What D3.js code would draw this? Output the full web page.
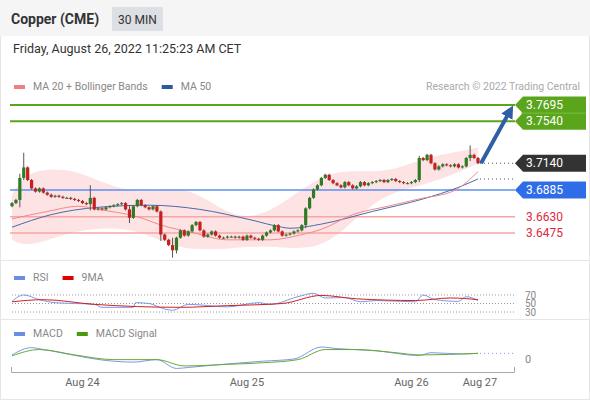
<!DOCTYPE html>
<html><head><meta charset="utf-8">
<script src="https://cdn.jsdelivr.net/npm/d3@7"></script>
<style>body{margin:0;background:#fff;font-family:Roboto,"Open Sans",sans-serif}</style>
</head><body><div id="chart"></div>
<script>
// 30 min closes, Aug 23 evening -> Aug 26 morning
const firstOpen = 3.673;
const closes = [3.676,3.679,3.700,3.710,3.698,3.690,3.687,3.690,3.686,3.684,3.682,3.683,3.682,3.681,3.681,3.680,3.679,3.678,3.676,3.675,
  3.681,3.670,3.671,3.670,3.672,3.673,3.674,3.675,3.676,3.670,3.662,3.673,3.679,3.674,3.672,3.670,3.673,3.668,3.646,3.641,
  3.636,3.631,3.643,3.650,3.645,3.649,3.655,3.658,3.650,3.644,3.646,3.649,3.645,3.643,3.643,3.644,3.644,3.643,3.644,3.641,
  3.645,3.643,3.642,3.641,3.645,3.648,3.650,3.655,3.649,3.645,3.646,3.647,3.649,3.650,3.655,3.671,3.681,3.689,3.693,3.700,
  3.703,3.698,3.695,3.693,3.691,3.696,3.693,3.690,3.692,3.696,3.693,3.695,3.696,3.697,3.698,3.696,3.698,3.699,3.697,3.696,
  3.695,3.695,3.696,3.698,3.719,3.717,3.722,3.714,3.708,3.711,3.713,3.712,3.711,3.713,3.710,3.711,3.719,3.722,3.719,3.714];
// notable wicks [index, high, low]
const wicks = [[2,3.704,3.672],[3,3.724,3.698],[20,3.693,3.669],[30,3.674,3.657],[38,3.669,3.640],[41,3.643,3.624],[42,3.644,3.628],[75,3.672,3.652],[104,3.721,3.696],[117,3.731,3.716]];
// indicator lines sampled along the candles [index, value]
const ma20 = [[0,3.661],[9,3.668],[17,3.673],[22,3.670],[32,3.663],[39,3.654],[46,3.648],[55,3.641],[66,3.641],[74,3.646],[79,3.651],[87,3.665],[96,3.673],[104,3.680],[113,3.688],[119,3.706]];
const ma50 = [[0,3.653],[10,3.665],[22,3.672],[35,3.674],[48,3.670],[61,3.660],[69,3.653],[71,3.652],[79,3.656],[92,3.668],[105,3.680],[114,3.691],[119,3.699]];
const bbUp = [[0,3.684],[4,3.708],[14,3.709],[20,3.701],[31,3.684],[41,3.691],[48,3.685],[56,3.663],[65,3.662],[79,3.705],[88,3.707],[96,3.705],[105,3.719],[114,3.725],[119,3.729]];
const bbLo = [[0,3.641],[5,3.632],[10,3.644],[22,3.653],[33,3.653],[41,3.634],[50,3.631],[61,3.634],[71,3.639],[75,3.628],[84,3.631],[88,3.663],[96,3.686],[105,3.693],[114,3.705],[119,3.714]];
const rsi = [[0,55],[3,70],[7,59],[11,52],[21,48],[23,41],[31,41],[31.5,52],[35,50],[39,37],[41,34],[45,48],[55,42],[63,52],[66,48],[73,66],[77,74],[80,63],[85,64],[89,54],[93,57],[103,54],[105,70],[108,59],[114,55],[116,66],[119,57]];
const rsiMA = [[0,54],[8,59],[21,48],[43,41],[55,45],[69,50],[79,69],[88,61],[103,57],[112,63],[119,59]];
const macd = [[0,0.0013],[5,0.0036],[8,0.0030],[26,-0.0007],[31,-0.0010],[37,-0.0002],[42,-0.0030],[45,-0.0027],[51,-0.0020],[64,-0.0007],[72,0],[79,0.0038],[83,0.0033],[93,0.0026],[104,0.0011],[107,0.0020],[115,0.0016],[119,0.0018]];
const signal = [[0,0.0010],[7,0.0030],[16,0.0013],[26,-0.0002],[37,-0.0002],[44,-0.0022],[55,-0.0017],[64,-0.0012],[73,-0.0002],[80,0.0030],[88,0.0030],[98,0.0020],[104,0.0013],[119,0.0018]];
const levels = [
  {v: 3.7695, kind: "res"}, {v: 3.7540, kind: "res"},
  {v: 3.6885, kind: "piv"}, {v: 3.6630, kind: "sup"}, {v: 3.6475, kind: "sup"}];
const dayTicks = [[18, "Aug 24"], [60, "Aug 25"], [102, "Aug 26"], [119.5, "Aug 27"]];
const rsiTicks = [70, 50, 30];

const W = 590, H = 400;
const svg = d3.select("#chart").append("svg").attr("width", W).attr("height", H)
  .style("font-family", "Roboto, sans-serif");

const x = d3.scaleLinear().domain([0, closes.length - 1]).range([12, 478]);
const y = d3.scaleLinear().domain([3.6475, 3.7695]).range([233, 105]);
const yR = d3.scaleLinear().domain([30, 70]).range([312, 295]);
const yM = d3.scaleLinear().domain([-0.004, 0.004]).range([371.6, 346.4]);

// frame + header
svg.append("rect").attr("x", 0.5).attr("y", 0.5).attr("width", W - 1).attr("height", H - 1).attr("fill", "none").attr("stroke", "#e6e6e6");
svg.append("rect").attr("width", W).attr("height", 36).attr("fill", "#f5f5f5");
svg.append("text").attr("x", 11).attr("y", 24).attr("font-size", 14).attr("font-weight", "bold").attr("fill", "#333").text("Copper (CME)");
svg.append("rect").attr("x", 112).attr("y", 7).attr("width", 51).attr("height", 24).attr("fill", "#dcdfe3").attr("rx", 1);
svg.append("text").attr("x", 137.5).attr("y", 24).attr("text-anchor", "middle").attr("font-size", 12).attr("fill", "#333").text("30 MIN");
svg.append("text").attr("x", 13).attr("y", 53).attr("font-size", 12.5).attr("fill", "#333").text("Friday, August 26, 2022 11:25:23 AM CET");

// panel separators
[260, 319].forEach(v => svg.append("line").attr("x1", 1).attr("x2", W - 1).attr("y1", v + .5).attr("y2", v + .5).attr("stroke", "#e6e6e6"));

function legend(items, yy) {
  let xx = 14;
  items.forEach(([label, color]) => {
    svg.append("rect").attr("x", xx).attr("y", yy - 5).attr("width", 11).attr("height", 4).attr("fill", color);
    const t = svg.append("text").attr("x", xx + 19).attr("y", yy).attr("font-size", 10.5).attr("fill", "#888").text(label);
    xx += 19 + t.node().getComputedTextLength() + 14;
  });
}
legend([["MA 20 + Bollinger Bands", "#f08080"], ["MA 50", "#2c5aa0"]], 90);
legend([["RSI", "#6a8ee0"], ["9MA", "#e00000"]], 281);
legend([["MACD", "#6a8ee0"], ["MACD Signal", "#4a9a10"]], 337);
svg.append("text").attr("x", 580).attr("y", 90).attr("text-anchor", "end").attr("font-size", 10.5).attr("fill", "#aaa").text("Research © 2022 Trading Central");

const line = (sy) => d3.line().x(d => x(d[0])).y(d => sy(d[1])).curve(d3.curveMonotoneX);

// bollinger band area
const loMap = d3.scaleLinear().domain(bbLo.map(d => d[0])).range(bbLo.map(d => d[1]));
svg.append("path").datum(bbUp)
  .attr("d", d3.area().x(d => x(d[0])).y0(d => y(loMap(d[0]))).y1(d => y(d[1])).curve(d3.curveBasis))
  .attr("fill", "#fde3e3");

// levels
levels.forEach(l => {
  const c = l.kind === "res" ? "#5aa51b" : l.kind === "piv" ? "#5b8ff0" : "#f7a5a5";
  svg.append("line").attr("x1", 10).attr("x2", 515).attr("y1", y(l.v)).attr("y2", y(l.v))
    .attr("stroke", c).attr("stroke-width", l.kind === "res" ? 2 : 1.5);
});

svg.append("path").datum(ma50).attr("d", line(y)).attr("fill", "none").attr("stroke", "#4a6aa8").attr("stroke-width", 1);
svg.append("path").datum(ma20).attr("d", line(y)).attr("fill", "none").attr("stroke", "#f08a8a").attr("stroke-width", 1);

// candles
const candles = closes.map((c, i) => {
  const o = i === 0 ? firstOpen : closes[i - 1];
  const w = wicks.find(d => d[0] === i);
  return {i, o, c, h: w ? w[1] : Math.max(o, c) + 0.001, l: w ? w[2] : Math.min(o, c) - 0.001};
});
const cg = svg.append("g");
cg.selectAll("line").data(candles).join("line")
  .attr("x1", d => x(d.i)).attr("x2", d => x(d.i)).attr("y1", d => y(d.h)).attr("y2", d => y(d.l))
  .attr("stroke", "#555").attr("stroke-width", 1);
cg.selectAll("rect").data(candles).join("rect")
  .attr("x", d => x(d.i) - 1.6).attr("width", 3.2)
  .attr("y", d => y(Math.max(d.o, d.c))).attr("height", d => Math.max(1, Math.abs(y(d.o) - y(d.c))))
  .attr("fill", d => d.c >= d.o ? "#2f7a22" : "#c81e1e");

// last-value dotted lines
const last = closes[closes.length - 1];
[y(last), y(ma50[ma50.length - 1][1])].forEach(yy =>
  svg.append("line").attr("x1", 480).attr("x2", 515).attr("y1", yy).attr("y2", yy)
    .attr("stroke", "#555").attr("stroke-dasharray", "1,3"));

// price tags
function tag(v, fill, textColor) {
  const yy = y(v);
  if (fill) svg.append("path")
    .attr("d", `M515,${yy} L523,${yy - 8.5} L586,${yy - 8.5} L586,${yy + 8.5} L523,${yy + 8.5} Z`).attr("fill", fill);
  svg.append("text").attr("x", 526).attr("y", yy + 4).attr("font-size", 12).attr("fill", textColor).text(v.toFixed(4));
}
tag(3.7695, "#5aa51b", "#fff");
tag(3.7540, "#5aa51b", "#fff");
tag(last, "#333", "#fff");
tag(3.6885, "#2f6de8", "#fff");
tag(3.6630, null, "#e0283c");
tag(3.6475, null, "#e0283c");
svg.append("line").attr("x1", 521).attr("x2", 586).attr("y1", y(3.7540 + 0.00775)).attr("y2", y(3.7540 + 0.00775)).attr("stroke", "#7cbf3f");

// projection arrow
svg.append("defs").append("marker").attr("id", "ah").attr("viewBox", "0 0 10 10").attr("refX", 5).attr("refY", 5)
  .attr("markerWidth", 3.2).attr("markerHeight", 3.2).attr("orient", "auto")
  .append("path").attr("d", "M0,0 L10,5 L0,10 Z").attr("fill", "#2e5fa6");
svg.append("line").attr("x1", x(closes.length - 1) + 3).attr("y1", y(last)).attr("x2", 510).attr("y2", y(3.7695) + 6)
  .attr("stroke", "#2e5fa6").attr("stroke-width", 4).attr("marker-end", "url(#ah)");

// RSI panel
rsiTicks.forEach(t => {
  svg.append("line").attr("x1", 12).attr("x2", 515).attr("y1", yR(t)).attr("y2", yR(t)).attr("stroke", "#999").attr("stroke-dasharray", "1,2");
  svg.append("text").attr("x", 525).attr("y", yR(t) + 3.5).attr("font-size", 10).attr("fill", "#888").text(t);
});
svg.append("rect").attr("x", 520).attr("y", 319.5).attr("width", 30).attr("height", 10).attr("fill", "#fff");
svg.append("line").attr("x1", 1).attr("x2", W - 1).attr("y1", 319.5).attr("y2", 319.5).attr("stroke", "#e6e6e6");
svg.append("path").datum(rsi).attr("d", line(yR)).attr("fill", "none").attr("stroke", "#7a9ae6").attr("stroke-width", 1);
svg.append("path").datum(rsiMA).attr("d", line(yR)).attr("fill", "none").attr("stroke", "#d02020").attr("stroke-width", 1);

// MACD panel
svg.append("path").datum(macd).attr("d", line(yM)).attr("fill", "none").attr("stroke", "#7a9ae6").attr("stroke-width", 1);
svg.append("path").datum(signal).attr("d", line(yM)).attr("fill", "none").attr("stroke", "#6aa830").attr("stroke-width", 1);
svg.append("line").attr("x1", 480).attr("x2", 515).attr("y1", yM(0.0018)).attr("y2", yM(0.0018)).attr("stroke", "#7a9ae6").attr("stroke-dasharray", "1,3");
svg.append("text").attr("x", 525).attr("y", yM(0) + 4).attr("font-size", 11).attr("fill", "#888").text("0");

// time axis
const axis = svg.append("g").attr("transform", "translate(0,372)");
axis.append("path").attr("d", "M11.5,-5 V0.5 H514.5 V-5").attr("fill", "none").attr("stroke", "#aaa").attr("stroke-width", 1);
axis.selectAll("text").data(dayTicks).join("text")
  .attr("x", d => x(d[0])).attr("y", 14).attr("text-anchor", "middle").attr("font-size", 11).attr("fill", "#666").text(d => d[1]);
</script></body></html>
